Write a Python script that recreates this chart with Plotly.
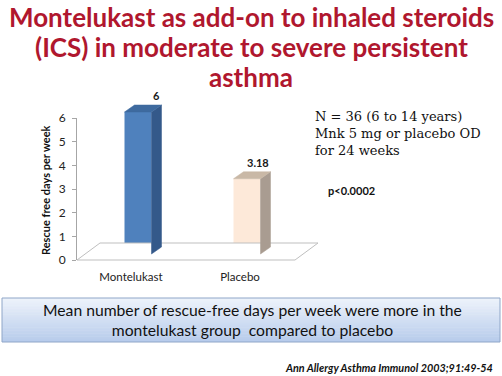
import plotly.graph_objects as go

# ---------------- data ----------------
categories = ["Montelukast", "Placebo"]
values = [6, 3.18]
value_labels = ["6", "3.18"]
y_ticks = [0, 1, 2, 3, 4, 5, 6]
front_colors = ["#4F81BD", "#FDE9D9"]
side_colors = ["#34598A", "#A99C91"]
top_colors = ["#3E6A9F", "#C9B8A6"]

title_lines = ["Montelukast as add-on to inhaled steroids",
               "(ICS) in moderate to severe persistent",
               "asthma"]
y_title = "Rescue free days per week"
study_text = "N = 36 (6 to 14 years)<br>Mnk 5 mg or placebo OD<br>for 24 weeks"
p_text = "p<0.0002"
box_text = "Mean number of rescue-free days per week were more in the<br>montelukast group  compared to placebo"
cite_text = "<b><i>Ann Allergy Asthma Immunol 2003;91:49-54</i></b>"

# ---------------- geometry (pixels) ----------------
W, H = 502, 376
PL, PR, PT, PB = 70, 330, 88, 262      # plot area
pw, ph = PR - PL, PB - PT


def px(x):
    return (x - PL) / pw


def py(y):
    return (PB - y) / ph


AX_L, AX_R = 77, 295
Y0, Y6 = 260, 118
CAT0, CAT1 = 131, 240
ux = CAT1 - CAT0
uy = (Y0 - Y6) / 6.0

xr_main = [(AX_L - CAT0) / ux, 1 + (AX_R - CAT1) / ux]
x2r = [(PL - CAT0) / ux, 1 + (PR - CAT1) / ux]
y2r = [(Y0 - PB) / uy, (Y0 - PT) / uy]

# 3D offsets in data units
bar_dx, bar_dy = 7 / ux, 6 / uy
bar_w = 27 / ux
dep_x, dep_y = 10 / ux, 7 / uy
fl_l = (23 / ux, 17 / uy)
fl_r = (23 / ux, 17 / uy)

fig = go.Figure()

# floor
fx = [xr_main[0], xr_main[1], xr_main[1] + fl_r[0], xr_main[0] + fl_l[0], xr_main[0]]
fy = [0, 0, fl_r[1], fl_l[1], 0]
fig.add_trace(go.Scatter(x=fx, y=fy, xaxis="x2", yaxis="y2", mode="lines",
                         fill="toself", fillcolor="white",
                         line=dict(color="#BFBFBF", width=1),
                         hoverinfo="skip", showlegend=False))

# bars (front faces)
fig.add_trace(go.Bar(x=[0, 1], y=values, base=bar_dy, width=bar_w,
                     offset=-bar_w / 2 + bar_dx, xaxis="x2", yaxis="y2",
                     marker=dict(color=front_colors, line=dict(width=0)),
                     hoverinfo="skip", showlegend=False))

for i, v in enumerate(values):
    xl = i - bar_w / 2 + bar_dx
    xr = i + bar_w / 2 + bar_dx
    b = bar_dy
    t = bar_dy + v
    fig.add_trace(go.Scatter(
        x=[xr, xr + dep_x, xr + dep_x, xr, xr],
        y=[b, b + dep_y, t + dep_y, t, b],
        xaxis="x2", yaxis="y2", mode="lines", fill="toself",
        fillcolor=side_colors[i], line=dict(color=side_colors[i], width=0.5),
        hoverinfo="skip", showlegend=False))
    fig.add_trace(go.Scatter(
        x=[xl, xl + dep_x, xr + dep_x, xr, xl],
        y=[t, t + dep_y, t + dep_y, t, t],
        xaxis="x2", yaxis="y2", mode="lines", fill="toself",
        fillcolor=top_colors[i], line=dict(color=top_colors[i], width=0.5),
        hoverinfo="skip", showlegend=False))
    fig.add_annotation(x=xr + dep_x, y=t + dep_y, xref="x2", yref="y2",
                       text="<b>%s</b>" % value_labels[i], showarrow=False,
                       xanchor="right", yanchor="bottom", yshift=1,
                       font=dict(family="Lato", size=11, color="#1a1a1a"))

fig.add_trace(go.Scatter(x=[0, 1], y=[0, 0], mode="markers", marker=dict(opacity=0),
                         hoverinfo="skip", showlegend=False))

fig.update_layout(
    width=W, height=H,
    margin=dict(l=PL, r=W - PR, t=PT, b=H - PB),
    paper_bgcolor="white", plot_bgcolor="rgba(0,0,0,0)",
    showlegend=False,
    xaxis=dict(domain=[px(AX_L), px(AX_R)], range=xr_main, tickvals=[0, 1],
               ticktext=categories, showline=False, showgrid=False, zeroline=False,
               ticks="", ticklabelstandoff=8,
               tickfont=dict(family="Lato", size=11.5, color="#222")),
    yaxis=dict(domain=[py(Y0), py(Y6)], range=[0, 6], tickvals=y_ticks,
               showline=True, linecolor="#A6A6A6", linewidth=1,
               ticks="outside", ticklen=4, tickcolor="#A6A6A6",
               showgrid=False, zeroline=False, ticklabelstandoff=4,
               tickfont=dict(family="Lato", size=12, color="#222")),
    xaxis2=dict(domain=[0, 1], range=x2r, visible=False, anchor="y2"),
    yaxis2=dict(domain=[0, 1], range=y2r, visible=False, anchor="x2"),
)

# y-axis title
fig.add_annotation(x=px(45), y=py(190), xref="paper", yref="paper",
                   text="<b>%s</b>" % y_title, showarrow=False, textangle=-90,
                   xanchor="center", yanchor="middle",
                   font=dict(family="Lato", size=11, color="#111"))

# title lines
for txt, yc in zip(title_lines, [17, 47, 77]):
    fig.add_annotation(x=px(251), y=py(yc), xref="paper", yref="paper",
                       text="<b>%s</b>" % txt, showarrow=False,
                       xanchor="center", yanchor="middle",
                       font=dict(family="Lato", size=26, color="#B0172E"))

# study info
fig.add_annotation(x=px(313), y=py(133), xref="paper", yref="paper",
                   text=study_text, showarrow=False, xanchor="left",
                   yanchor="middle", align="left",
                   font=dict(family="DejaVu Serif", size=13, color="#111"))
fig.add_annotation(x=px(326), y=py(190), xref="paper", yref="paper",
                   text="<b>%s</b>" % p_text, showarrow=False, xanchor="left",
                   yanchor="middle", font=dict(family="Lato", size=11, color="#111"))

# gradient box
bx0, bx1, by0, by1 = 2, 500, 298, 342
c_top = (238, 243, 251)
c_bot = (182, 203, 235)
n = 30
for k in range(n):
    f = (k + 0.5) / n
    col = "rgb(%d,%d,%d)" % tuple(int(round(a + (b - a) * f)) for a, b in zip(c_top, c_bot))
    ya = by0 + (by1 - by0) * k / n
    yb = by0 + (by1 - by0) * (k + 1) / n + 0.5
    fig.add_shape(type="rect", xref="paper", yref="paper",
                  x0=px(bx0), x1=px(bx1), y0=py(ya), y1=py(min(yb, by1)),
                  line=dict(width=0), fillcolor=col, layer="above")
fig.add_shape(type="rect", xref="paper", yref="paper",
              x0=px(bx0), x1=px(bx1), y0=py(by0), y1=py(by1),
              line=dict(color="#8FA6C8", width=1), fillcolor="rgba(0,0,0,0)", layer="above")
fig.add_annotation(x=px(252), y=py(320), xref="paper", yref="paper",
                   text=box_text, showarrow=False, xanchor="center",
                   yanchor="middle", align="center",
                   font=dict(family="Lato", size=15.7, color="#111"))

# citation
fig.add_annotation(x=px(495), y=py(367), xref="paper", yref="paper",
                   text=cite_text, showarrow=False, xanchor="right",
                   yanchor="middle", font=dict(family="Lato", size=10.8, color="#111"))

fig.write_html("out.html", config={"displayModeBar": False},
               post_script="document.body.style.margin='0px';")
